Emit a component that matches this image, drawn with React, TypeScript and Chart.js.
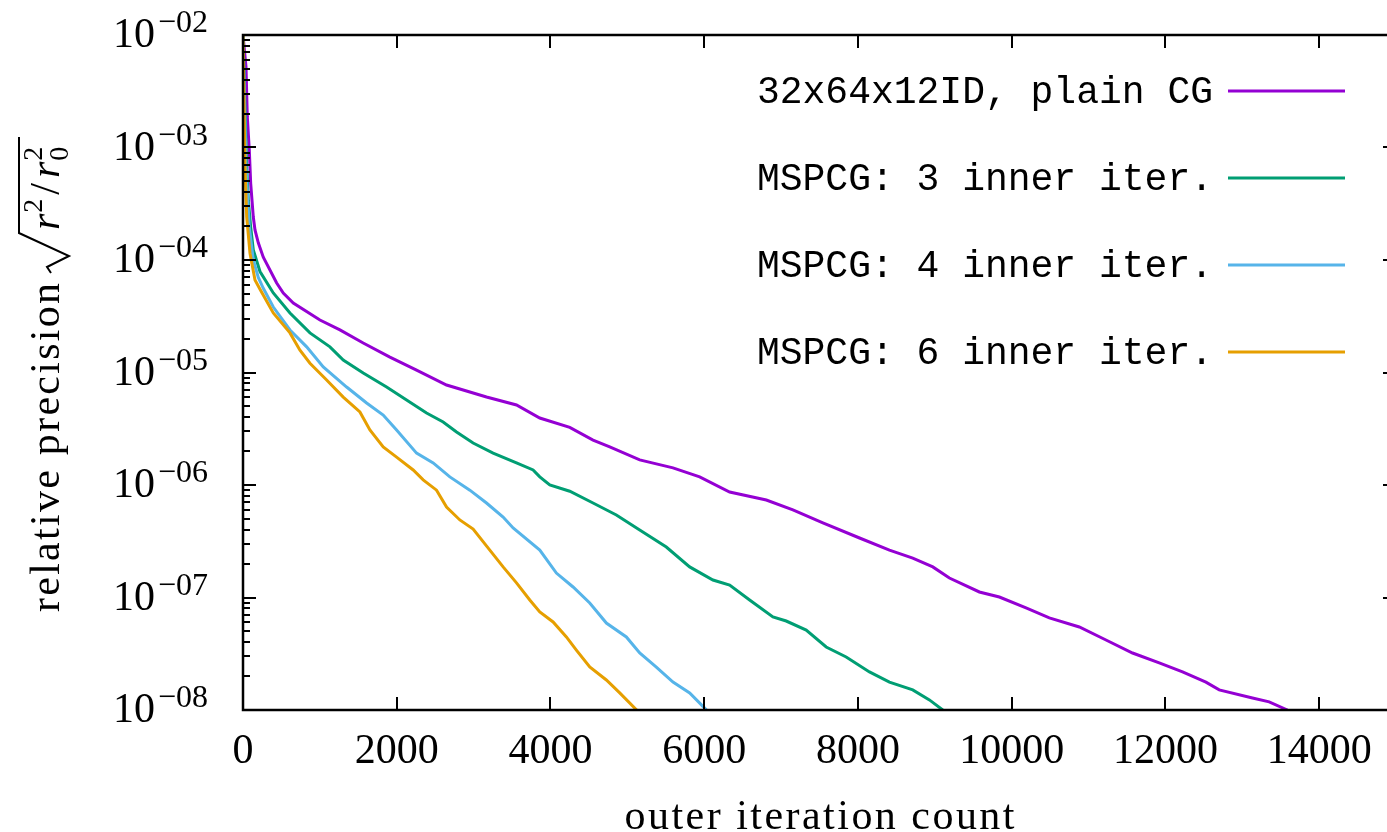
import React, { useEffect, useRef } from "react";
import { Chart, registerables } from "chart.js";

Chart.register(...registerables);

// ---------------- data ----------------
const seriesLabels = [
  "32x64x12ID, plain CG",
  "MSPCG: 3 inner iter.",
  "MSPCG: 4 inner iter.",
  "MSPCG: 6 inner iter.",
];
const seriesColors = ["#9400d3", "#009e73", "#56b4e9", "#e69f00"];

const cgIter = [0, 39, 56, 82, 100, 134, 156, 199, 264, 438, 524, 654, 1001, 1261, 1564, 1911, 2258, 2648, 3168, 3558, 3861, 4251, 4554, 4771, 5161, 5594, 5941, 6331, 6808, 7154, 7544, 8021, 8410, 8713, 8974, 9190, 9580, 9840, 10187, 10490, 10880, 11227, 11573, 11920, 12223, 12527, 12700, 13133, 13350, 13588];
const cgRes = [1.0e-2, 5.2e-3, 1.87e-3, 9.5e-4, 4.8e-4, 2.41e-4, 1.85e-4, 1.42e-4, 1.06e-4, 6.25e-5, 5.09e-5, 4.15e-5, 2.93e-5, 2.39e-5, 1.83e-5, 1.37e-5, 1.05e-5, 7.74e-6, 6.05e-6, 5.14e-6, 3.94e-6, 3.25e-6, 2.51e-6, 2.18e-6, 1.67e-6, 1.42e-6, 1.18e-6, 8.67e-7, 7.36e-7, 6.0e-7, 4.6e-7, 3.38e-7, 2.64e-7, 2.24e-7, 1.87e-7, 1.49e-7, 1.12e-7, 1.01e-7, 8.07e-8, 6.58e-8, 5.47e-8, 4.19e-8, 3.21e-8, 2.62e-8, 2.18e-8, 1.77e-8, 1.51e-8, 1.28e-8, 1.18e-8, 1.0e-8];

const ms3Iter = [0, 48, 69, 100, 134, 221, 394, 611, 871, 1131, 1304, 1564, 1868, 2128, 2388, 2604, 2778, 2994, 3254, 3558, 3774, 3861, 3991, 4251, 4554, 4857, 5161, 5507, 5811, 6114, 6331, 6591, 6894, 7067, 7327, 7587, 7847, 8150, 8410, 8713, 8930, 9104];
const ms3Res = [1.0e-2, 6.7e-4, 3.4e-4, 1.96e-4, 1.23e-4, 7.9e-5, 5.09e-5, 3.38e-5, 2.25e-5, 1.69e-5, 1.29e-5, 9.9e-6, 7.43e-6, 5.7e-6, 4.36e-6, 3.63e-6, 2.96e-6, 2.36e-6, 1.92e-6, 1.57e-6, 1.36e-6, 1.18e-6, 1.0e-6, 8.8e-7, 6.92e-7, 5.41e-7, 3.98e-7, 2.81e-7, 1.87e-7, 1.43e-7, 1.29e-7, 9.5e-8, 6.71e-8, 6.18e-8, 5.14e-8, 3.63e-8, 2.96e-8, 2.18e-8, 1.77e-8, 1.51e-8, 1.23e-8, 1.0e-8];

const ms4Iter = [0, 39, 82, 134, 199, 264, 394, 611, 828, 1044, 1348, 1608, 1824, 1998, 2258, 2474, 2691, 2951, 3168, 3384, 3514, 3861, 4077, 4294, 4511, 4727, 4987, 5161, 5377, 5594, 5811, 6006, 6030];
const ms4Res = [1.0e-2, 6.7e-4, 1.96e-4, 1.0e-4, 7.0e-5, 5.6e-5, 3.82e-5, 2.39e-5, 1.69e-5, 1.12e-5, 7.43e-6, 5.36e-6, 4.19e-6, 3.08e-6, 1.92e-6, 1.57e-6, 1.18e-6, 9.0e-7, 6.92e-7, 5.19e-7, 4.15e-7, 2.64e-7, 1.65e-7, 1.24e-7, 8.93e-8, 5.93e-8, 4.46e-8, 3.21e-8, 2.41e-8, 1.77e-8, 1.42e-8, 1.04e-8, 1.0e-8];

const ms6Iter = [0, 26, 48, 91, 156, 221, 394, 611, 741, 871, 1088, 1304, 1521, 1651, 1824, 1998, 2214, 2344, 2518, 2648, 2821, 2994, 3211, 3384, 3558, 3731, 3861, 4034, 4207, 4337, 4511, 4727, 4901, 5121];
const ms6Res = [1.0e-2, 6.7e-4, 2.41e-4, 1.15e-4, 6.63e-5, 5.5e-5, 3.38e-5, 2.25e-5, 1.58e-5, 1.21e-5, 8.58e-6, 6.05e-6, 4.46e-6, 3.08e-6, 2.18e-6, 1.77e-6, 1.36e-6, 1.11e-6, 9.0e-7, 6.37e-7, 4.89e-7, 4.06e-7, 2.64e-7, 1.87e-7, 1.35e-7, 9.5e-8, 7.43e-8, 6.06e-8, 4.46e-8, 3.41e-8, 2.41e-8, 1.85e-8, 1.42e-8, 1.0e-8];

const xTicks = [0, 2000, 4000, 6000, 8000, 10000, 12000, 14000];
const xTickLabels = ["0", "2000", "4000", "6000", "8000", "10000", "12000", "14000"];
const yDecades = [-2, -3, -4, -5, -6, -7, -8];
const yTickExponents = ["\u221202", "\u221203", "\u221204", "\u221205", "\u221206", "\u221207", "\u221208"];
const xTitle = "outer iteration count";
const yTitle = "relative precision";

const X_MIN = 0;
const X_MAX = 15000;
const Y_MIN = 1e-8;
const Y_MAX = 1e-2;

// ---------------- layout / style ----------------
const CANVAS_W = 1420;
const CANVAS_H = 832;
const PLOT_LEFT = 243;
const PLOT_TOP = 35;
const PLOT_RIGHT = 1396;
const PLOT_BOTTOM = 710;
const SERIF = "'Liberation Serif', 'Times New Roman', serif";
const MONO = "'Liberation Mono', 'Courier New', monospace";

function toPoints(xs: number[], ys: number[]) {
  return xs.map((x, i) => ({ x, y: ys[i] }));
}

const decorPlugin = {
  id: "decor",
  afterDatasetsDraw(chart: any) {
    const ctx: CanvasRenderingContext2D = chart.ctx;
    const { left, right, top, bottom } = chart.chartArea;
    const xs = chart.scales.x;
    const ys = chart.scales.y;
    ctx.save();
    ctx.strokeStyle = "#000";
    ctx.fillStyle = "#000";

    // ticks
    ctx.lineWidth = 2;
    ctx.beginPath();
    for (const v of xTicks) {
      const px = Math.round(xs.getPixelForValue(v));
      ctx.moveTo(px, bottom);
      ctx.lineTo(px, bottom - 13);
      ctx.moveTo(px, top);
      ctx.lineTo(px, top + 13);
    }
    for (const d of yDecades) {
      const py = Math.round(ys.getPixelForValue(Math.pow(10, d)));
      ctx.moveTo(left, py);
      ctx.lineTo(left + 13, py);
      ctx.moveTo(right, py);
      ctx.lineTo(right - 13, py);
      if (d > -8) {
        for (let m = 2; m <= 9; m++) {
          const pm = Math.round(ys.getPixelForValue(m * Math.pow(10, d - 1)));
          ctx.moveTo(left, pm);
          ctx.lineTo(left + 7, pm);
          ctx.moveTo(right, pm);
          ctx.lineTo(right - 7, pm);
        }
      }
    }
    ctx.stroke();

    // frame
    ctx.lineWidth = 2.5;
    ctx.strokeRect(left, top, right - left, bottom - top);

    // x tick labels
    ctx.font = `42px ${SERIF}`;
    ctx.textAlign = "center";
    ctx.textBaseline = "alphabetic";
    xTicks.forEach((v, i) => {
      ctx.fillText(xTickLabels[i], xs.getPixelForValue(v), 763);
    });

    // y tick labels: 10^{-0n}
    yDecades.forEach((d, i) => {
      const py = ys.getPixelForValue(Math.pow(10, d));
      ctx.textAlign = "left";
      ctx.font = `42px ${SERIF}`;
      ctx.fillText("10", 113, py + 12);
      const w10 = ctx.measureText("10").width;
      ctx.font = `32px ${SERIF}`;
      ctx.fillText(yTickExponents[i], 113 + w10 + 3, py - 3);
    });

    // x title
    ctx.font = `42px ${SERIF}`;
    ctx.textAlign = "left";
    (ctx as any).letterSpacing = "0px";
    const wx = ctx.measureText(xTitle).width;
    const targetX = 390;
    const spX = Math.max(0, (targetX - wx) / (xTitle.length - 1));
    (ctx as any).letterSpacing = `${spX}px`;
    ctx.fillText(xTitle, (left + right) / 2 - targetX / 2, 829);
    (ctx as any).letterSpacing = "0px";

    // y title (rotated)
    ctx.save();
    ctx.translate(59, 612);
    ctx.rotate(-Math.PI / 2);
    ctx.font = `42px ${SERIF}`;
    const wy = ctx.measureText(yTitle).width;
    const targetY = 329;
    const spY = Math.max(0, (targetY - wy) / (yTitle.length - 1));
    (ctx as any).letterSpacing = `${spY}px`;
    ctx.fillText(yTitle, 0, 0);
    (ctx as any).letterSpacing = "0px";
    // radical
    const r0 = 339;
    let cx = r0 + 43;
    const it = `italic 42px ${SERIF}`;
    const sup = `28px ${SERIF}`;
    ctx.font = it;
    ctx.fillText("r", cx, 0);
    cx += ctx.measureText("r").width + 1;
    ctx.font = sup;
    ctx.fillText("2", cx, -17);
    cx += ctx.measureText("2").width + 4;
    ctx.font = `42px ${SERIF}`;
    ctx.fillText("/", cx, 0);
    cx += ctx.measureText("/").width + 5;
    ctx.font = it;
    ctx.fillText("r", cx, 0);
    cx += ctx.measureText("r").width + 1;
    ctx.font = sup;
    ctx.fillText("2", cx, -17);
    ctx.fillText("0", cx, 9);
    cx += ctx.measureText("2").width + 4;
    ctx.lineWidth = 2;
    ctx.lineJoin = "miter";
    ctx.beginPath();
    ctx.moveTo(r0, -8);
    ctx.lineTo(r0 + 6, -12);
    ctx.lineTo(r0 + 17, 10);
    ctx.lineTo(r0 + 40, -40);
    ctx.lineTo(Math.max(cx, r0 + 136), -40);
    ctx.stroke();
    ctx.restore();

    // legend
    const rows = [91, 178, 265, 352];
    ctx.font = `38px ${MONO}`;
    ctx.textAlign = "right";
    chart.data.datasets.forEach((ds: any, i: number) => {
      const y = rows[i];
      ctx.fillStyle = "#000";
      ctx.fillText(ds.label, 1213, y + 12);
      ctx.strokeStyle = ds.borderColor;
      ctx.lineWidth = 3;
      ctx.beginPath();
      ctx.moveTo(1228, y);
      ctx.lineTo(1345, y);
      ctx.stroke();
    });

    ctx.restore();
  },
};

export default function App() {
  const canvasRef = useRef<HTMLCanvasElement | null>(null);

  useEffect(() => {
    if (!canvasRef.current) return;
    const iters = [cgIter, ms3Iter, ms4Iter, ms6Iter];
    const res = [cgRes, ms3Res, ms4Res, ms6Res];
    const chart = new Chart(canvasRef.current, {
      type: "line",
      data: {
        datasets: seriesLabels.map((label, i) => ({
          label,
          data: toPoints(iters[i], res[i]),
          borderColor: seriesColors[i],
          backgroundColor: seriesColors[i],
          borderWidth: 3,
          pointRadius: 0,
          tension: 0,
          fill: false,
          order: 3 - i,
        })),
      },
      options: {
        responsive: false,
        animation: false,
        devicePixelRatio: 1,
        events: [],
        layout: {
          padding: {
            left: PLOT_LEFT,
            top: PLOT_TOP,
            right: CANVAS_W - PLOT_RIGHT,
            bottom: CANVAS_H - PLOT_BOTTOM,
          },
        },
        plugins: {
          legend: { display: false },
          tooltip: { enabled: false },
          title: { display: false },
        },
        scales: {
          x: { type: "linear", min: X_MIN, max: X_MAX, display: false },
          y: { type: "logarithmic", min: Y_MIN, max: Y_MAX, display: false },
        },
      },
      plugins: [decorPlugin],
    });
    return () => chart.destroy();
  }, []);

  return (
    <div
      style={{
        position: "fixed",
        left: 0,
        top: 0,
        width: 1387,
        height: 832,
        overflow: "hidden",
        background: "#fff",
      }}
    >
      <canvas
        ref={canvasRef}
        width={CANVAS_W}
        height={CANVAS_H}
        style={{ display: "block", width: CANVAS_W, height: CANVAS_H }}
      />
    </div>
  );
}
